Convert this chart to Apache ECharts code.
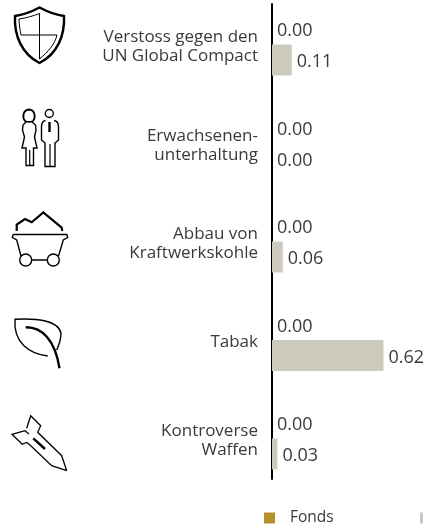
<!DOCTYPE html>
<html>
<head>
<meta charset="utf-8">
<script src="https://cdn.jsdelivr.net/npm/echarts@6/dist/echarts.min.js"></script>
<style>
  html, body { margin: 0; padding: 0; background: #fff; overflow: hidden; }
  #chart { width: 423px; height: 527px; }
</style>
</head>
<body>
<div id="chart"></div>
<script>
const categories = [
  'Verstoss gegen den\nUN Global Compact',
  'Erwachsenen-\nunterhaltung',
  'Abbau von\nKraftwerkskohle',
  'Tabak',
  'Kontroverse\nWaffen'
];
const fondsValues = [0, 0, 0, 0, 0];
const benchmarkValues = [0.11, 0, 0.06, 0.62, 0.03];
const seriesNames = ['Fonds', 'Benchmark'];

// icons left of the labels: [svg path, stroke width]
const icons = [
  // shield
  ['M39.5 7.5C31 12 23 15 15 16C14 36 22 54 39.5 63C57 54 65 36 64 16C56 15 48 12 39.5 7.5Z', 2.4],
  ['M39.5 13.5C33 16 26 18 19 19C19 24 20 30 21 35H57C55 44 48 52 39.5 59Z', 1],
  // people
  ['M25 121C22 117 23 110 29 109.5C35 110 36 117 33 121C31 122 27 122 25 121Z', 1.8],
  ['M26 122L23 125L22.5 130L24.5 137L22 148H26V165.5H33.5V148H37L34.5 137L36 130L35.5 125L32 122', 1.4],
  ['M29.7 150V165', 1.2],
  ['M49.3 109.5A4 4 0 1 1 49.29 109.5ZM45.5 120.5C42 121 41.5 124 41.5 127V140L45 143V166.5H55V143L58.5 140V127C58.5 124 58 121 54 120.5', 1.4],
  ['M50 144V166', 1.2],
  ['M49.5 122V132', 2.4],
  // coal cart
  ['M16.7 231L16.7 224.5L25 219L31.7 222.3L43.3 212.5L61.7 227.7L62.3 231', 2.2],
  ['M13.3 234.5H66.7L67.7 237.5L63.3 240L58.5 256M13.3 234.5L12.3 237.5L16.7 240L21 256', 1.4],
  ['M25.7 254A6 6 0 1 1 25.69 254ZM53.3 254A6 6 0 1 1 53.29 254ZM31.7 260H47.3', 1.4],
  // leaf
  ['M47.7 356C30 354 13 343 15 319.3C35 318 58 320 61 333C61 340 59 345 56.7 350', 1.4],
  ['M25.7 327.3C42 327 55 340 59.5 368.3', 2.4],
  // missile
  ['M66.7 470.7L51.7 465.7L30 445L26.7 442.5L22.3 444.3L12 434.3L25 430.7L29 434M26.7 428.3L30.7 415.7L40.7 425.7L37.7 432.3L61.7 455.7L66.7 470.7', 1.3],
  ['M33.3 438.3L45 449', 2.4]
];

// graphic has no plain path type, so each icon stroke gets its own shape
icons.forEach(([pathData], i) => {
  echarts.graphic.registerShape('icon' + i, echarts.graphic.extendPath(pathData));
});

const chart = echarts.init(document.getElementById('chart'));
const font = '"Open Sans"';
const labelStyle = {
  show: true,
  position: 'right',
  distance: 5,
  offset: [0, 2],
  color: '#3a3a3a',
  fontFamily: font,
  fontSize: 18,
  formatter: p => p.value.toFixed(2)
};
const legendBase = {
  top: 510,
  padding: 0,
  itemWidth: 11,
  itemHeight: 11,
  icon: 'rect',
  textStyle: { color: '#3a3a3a', fontFamily: font, fontSize: 15.5, padding: [0, 0, 6, 10] }
};

chart.setOption({
  animation: false,
  legend: [
    { ...legendBase, left: 264, data: [seriesNames[0]] },
    { ...legendBase, left: 420, data: [seriesNames[1]] }
  ],
  grid: [
    { left: 272, top: -4.75, width: 151, height: 492.5, outerBoundsMode: 'none' },
    { left: 272, top: 4, width: 151, height: 475, outerBoundsMode: 'none' }, // only carries the vertical line
    { left: 272, top: -2.25, width: 151, height: 492.5, outerBoundsMode: 'none' } // only carries the category labels, sits a bit lower than the bars
  ],
  xAxis: [
    { gridIndex: 0, type: 'value', min: 0, max: 0.84, show: false },
    { gridIndex: 1, type: 'value', min: 0, max: 1, show: false },
    { gridIndex: 2, type: 'value', min: 0, max: 1, show: false }
  ],
  yAxis: [
    {
      gridIndex: 0,
      type: 'category',
      inverse: true,
      data: categories,
      axisLine: { show: false },
      axisTick: { show: false },
      axisLabel: { show: false }
    },
    {
      gridIndex: 1,
      type: 'value',
      min: 0,
      max: 1,
      splitLine: { show: false },
      axisTick: { show: false },
      axisLabel: { show: false },
      axisLine: { show: true, lineStyle: { color: '#000', width: 2 } }
    },
    {
      gridIndex: 2,
      type: 'category',
      inverse: true,
      data: categories,
      axisLine: { show: false },
      axisTick: { show: false },
      axisLabel: { margin: 14, color: '#3a3a3a', fontFamily: font, fontSize: 17, lineHeight: 19, align: 'right' }
    }
  ],
  series: [
    {
      name: seriesNames[0],
      type: 'bar',
      barWidth: 31,
      barGap: 0,
      itemStyle: { color: '#b98f2d' },
      label: labelStyle,
      data: fondsValues
    },
    {
      name: seriesNames[1],
      type: 'bar',
      barWidth: 31,
      itemStyle: { color: '#cccabc' },
      label: labelStyle,
      data: benchmarkValues
    }
  ],
  graphic: icons.map(([, lineWidth], i) => ({
    type: 'icon' + i,
    silent: true,
    style: { fill: 'none', stroke: '#000', lineWidth }
  }))
});
</script>
</body>
</html>
